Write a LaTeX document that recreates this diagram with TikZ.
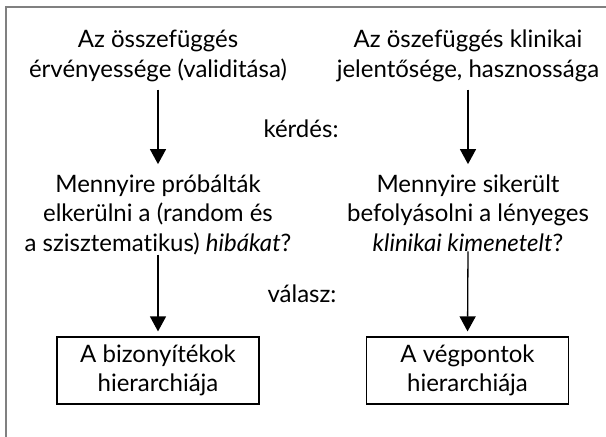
\documentclass[tikz,border=0pt]{standalone}
\usepackage{fontspec}
\setmainfont{Lato}[Ligatures=NoCommon]
\usetikzlibrary{arrows.meta}
\tikzset{
  txt/.style={align=center, inner sep=0pt, font=\fontsize{24}{29.5}\selectfont, anchor=base},
  lbl/.style={inner sep=0pt, font=\fontsize{24}{29.5}\selectfont, anchor=base},
  boxn/.style={draw, line width=1.2pt, minimum width=202pt, minimum height=67pt, inner sep=0pt, align=center, font=\fontsize{24}{28.5}\selectfont},
  arr/.style={line width=1.3pt, -{Triangle[length=15pt, width=16pt]}},
  frame/.style={draw=black!50, line width=1.6pt}
}
\begin{document}
\begin{tikzpicture}[x=1pt, y=-1pt]
\useasboundingbox (0,0) rectangle (606,437);
\draw[frame] (6,437) -- (6,7) -- (606,7);
% titles
\node[txt] (t1) at (158,77) {Az összefüggés\\érvényessége (validitása)};
\node[txt] (t2) at (468,77) {Az öszefüggés klinikai\\jelentősége, hasznossága};
% questions
\node[txt] (m1) at (158,251) {Mennyire próbálták\\elkerülni a (random és\\a szisztematikus) \textit{hibákat}?};
\node[txt] (m2) at (468,251) {Mennyire sikerült\\befolyásolni a lényeges\\\textit{klinikai kimenetelt}?};
% boxes
\node[boxn] (b1) at (158,370.5) {A bizonyítékok\\hierarchiája};
\node[boxn] (b2) at (467.5,370.5) {A végpontok\\hierarchiája};
% labels
\node[lbl] (q) at (301,137) {kérdés:};
\node[lbl] (a) at (302,302) {válasz:};
% arrows
\draw[arr, shorten <=8pt, shorten >=10pt] (t1.south) -- (m1.north);
\draw[arr, shorten <=8pt, shorten >=10pt] (t2.south) -- (m2.north);
\draw[arr, shorten >=5pt] (m1.south) -- (b1.north);
\draw[arr, shorten >=5pt] (m2.south) -- (b2.north);
\end{tikzpicture}
\end{document}
